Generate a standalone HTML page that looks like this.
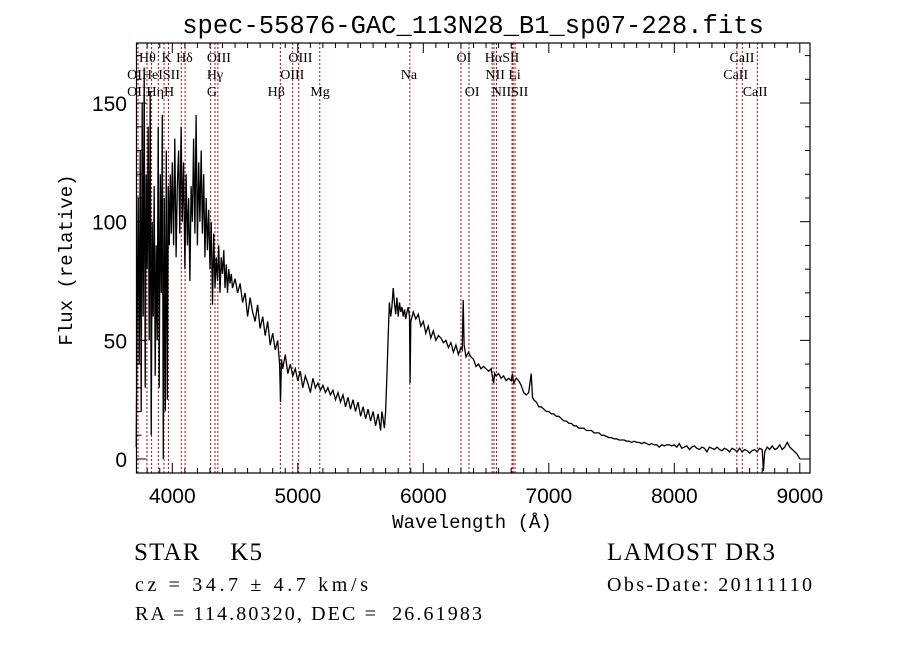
<!DOCTYPE html>
<html><head><meta charset="utf-8"><style>
html,body{margin:0;padding:0;background:#fff;}
svg{display:block;}
</style></head><body>
<svg id="chart" width="900" height="649" xmlns="http://www.w3.org/2000/svg">
<rect width="900" height="649" fill="#fff"/>
<text x="473" y="33" text-anchor="middle" font-family="Liberation Mono, monospace" font-size="25.5">spec-55876-GAC_113N28_B1_sp07-228.fits</text>
<g id="lines"></g>
<g id="labels" font-family="Liberation Serif, serif" font-size="14"></g>
<g id="axes"></g>
<path id="spec" fill="none" stroke="#000" stroke-width="1.3"/>
<text x="472" y="528" text-anchor="middle" font-family="Liberation Mono, monospace" font-size="19">Wavelength (Å)</text>
<text transform="translate(72,260) rotate(-90)" text-anchor="middle" font-family="Liberation Mono, monospace" font-size="19">Flux (relative)</text>
<g font-family="Liberation Serif, serif">
<text x="134" y="560" font-size="25" textLength="128" lengthAdjust="spacing" xml:space="preserve">STAR    K5</text>
<text x="607" y="560" font-size="25" textLength="168" lengthAdjust="spacing">LAMOST DR3</text>
<text x="135" y="591" font-size="20" textLength="233" lengthAdjust="spacing">cz = 34.7 ± 4.7 km/s</text>
<text x="607" y="591" font-size="20" textLength="205" lengthAdjust="spacing">Obs-Date: 20111110</text>
<text x="135" y="620" font-size="20" textLength="347" lengthAdjust="spacing" xml:space="preserve">RA = 114.80320, DEC =  26.61983</text>
</g>
</svg>
<script>
const waves = [3712,3720,3728,3736,3744,3752,3760,3768,3776,3784,3792,3800,3808,3816,3824,3832,3840,3848,3856,3864,3872,3880,3888,3896,3904,3912,3920,3928,3936,3944,3952,3960,3968,3976,3984,3992,
4000,4010,4020,4030,4040,4050,4060,4070,4080,4090,4100,4110,4120,4130,4140,4150,4160,4170,4180,4190,4200,4210,4220,4230,4240,4250,4260,4270,4280,4290,
4300,4310,4320,4330,4340,4350,4360,4370,4380,4390,4400,4410,4420,4430,4440,4450,4460,4470,
4480,4500,4520,4540,4560,4580,4600,4620,4640,4660,4680,4700,4720,4740,4760,4780,4800,4820,4840,4855,4862,4870,4880,4900,4920,4940,4960,4980,5000,5020,5040,5060,5080,5100,5120,5140,5160,5180,5200,5220,5240,5260,5280,5300,5320,5340,5360,5380,5400,5420,5440,5460,5480,5500,5520,5540,5560,5580,5600,5620,5640,5660,5670,
5680,5690,5700,5710,5720,5730,5740,5750,5760,5770,5780,5790,5800,5810,5820,5830,5840,5850,5860,5870,5880,5890,5895,5900,5920,5940,5960,5980,6000,6020,6040,6060,6080,6100,6120,6140,6160,6180,6200,6220,6240,6260,6280,6300,6310,6318,6325,6340,6360,6380,6400,6420,6440,6460,6480,6500,6520,6540,6560,6570,6580,6600,6620,6640,6660,6680,6700,6710,6720,6740,6760,6780,6800,6820,6840,6860,6870,6880,6900,6920,6940,6960,6980,7000,7020,7040,7060,7080,7100,7120,7140,7160,7180,7200,7220,7240,7260,7280,7300,7320,7340,7360,7380,7400,7420,7440,7460,7480,7500,7520,7540,7560,7580,7600,7620,7640,7660,7680,7700,7720,7740,7760,7780,7800,7820,7840,7860,7880,7900,7920,7940,7960,7980,8000,8020,8040,8060,8080,8100,8120,8140,8160,8180,8200,8220,8240,8260,8280,8300,8320,8340,8360,8380,8400,8420,8440,8460,8480,8500,8520,8540,8560,8580,8600,8620,8640,8660,8680,8700,8710,8720,8740,8760,8780,8800,8820,8840,8860,8880,8900,8920,8940,8960,8980,9000];
const flux = [5,60,110,40,130,20,150,60,165,30,120,80,140,50,155,10,100,60,115,35,90,50,140,30,120,70,145,0,110,20,130,25,115,90,120,95,
125,90,135,85,115,130,95,140,100,125,80,120,90,110,75,115,100,135,95,145,90,125,100,130,95,120,85,110,88,105,
80,100,65,95,72,85,75,90,70,85,78,88,72,82,70,80,74,78,
72,76,70,74,66,70,60,68,62,58,65,55,60,52,58,48,53,46,50,40,24,42,38,44,36,40,35,38,33,37,30,35,32,28,34,30,32,29,31,28,30,27,29,25,28,24,27,22,26,21,25,20,24,18,22,17,21,16,20,14,19,12,20,
17,13,20,35,52,66,60,64,72,66,61,68,60,66,62,64,60,63,59,62,64,60,32,58,62,59,61,56,58,53,56,51,54,50,52,51,49,50,47,49,45,48,44,47,46,67,48,43,45,43,42,39,40,38,39,38,37,38,32,36,35,36,34,35,33,34,33,36,32,34,33,31,28,27,28,36,26,25,24,22,22,21,20,20,19,19,18,18,17,16,16,15,15,14,14,13,13,13,12,12,12,11,11,11,10,10,9.5,9,9,8.5,8.5,8,8,8,7.5,7.5,7,7.5,7,7,6.5,7,6.5,6,6.5,6,6,5,6,5.5,6,6,5.5,6,5,6.5,4.5,5,5.5,4,5,5.5,4.5,4,5,4.5,3,5,4.5,4,5,4,3.5,4.5,4,3,4.5,4,3,4.5,3,4,3.5,2.5,3.5,4,3,4.5,4,-5,3,5,4,5.5,4,4.5,6,4,5,7,5,4,3,2,0];
const xTicks = [4000,5000,6000,7000,8000,9000];
const yTicks = [0,50,100,150];
const lineWaves = [3727,3798,3835,3889,3934,3969,4072,4102,4305,4340,4363,4861,4959,5007,5175,5893,6300,6364,6548,6563,6583,6707,6716,6731,8498,8542,8662];
const labelText = ["Hθ","K","Hδ","OIII","OIII","OI","HαSII","CaII","OIHeISII","Hγ","OIII","Na","NII Li","CaII","OIIHηH","G","Hβ","Mg","OI","NIISII","CaII"];
const labelWave = [3735,3915,4030,4275,4925,6265,6490,8440,3640,4275,4860,5820,6495,8390,3640,4275,4760,5100,6330,6545,8545];
const labelRow = [0,0,0,0,0,0,0,0,1,1,1,1,1,1,2,2,2,2,2,2,2];

const X0=136.5, X1=810, Y0=43, Y1=473;
const xs = w => 172.3 + (w-4000)*0.1255;
const ys = f => 459 - f*2.373;
const NS="http://www.w3.org/2000/svg";
function mk(tag, attrs, parent){const e=document.createElementNS(NS,tag);for(const k in attrs)e.setAttribute(k,attrs[k]);parent.appendChild(e);return e;}

const lg=document.getElementById('lines');
lineWaves.forEach(w=>{
  const l=mk('line',{x1:xs(w),x2:xs(w),y1:Y0,y2:Y1,stroke:'#c00000','stroke-width':1,'stroke-dasharray':'2,2'},lg);
  
  
});
const lb=document.getElementById('labels');
const rowY=[62,79,96];
labelText.forEach((t,i)=>{
  const e=mk('text',{x:xs(labelWave[i]),y:rowY[labelRow[i]]},lb);
  e.textContent=t;
  
  
});

const ax=document.getElementById('axes');
const fr=mk('rect',{x:X0,y:Y0,width:X1-X0,height:Y1-Y0,fill:'none',stroke:'#000','stroke-width':1.2},ax);


for(let w=3800; w<=9000; w+=100){
  const major = w%1000===0, L = major?10:5;
  mk('line',{x1:xs(w),x2:xs(w),y1:Y1,y2:Y1-L,stroke:'#000','stroke-width':1},ax);
  mk('line',{x1:xs(w),x2:xs(w),y1:Y0,y2:Y0+L,stroke:'#000','stroke-width':1},ax);
}
xTicks.forEach(w=>{
  const t=mk('text',{x:xs(w),y:503,'text-anchor':'middle','font-family':'Liberation Sans, sans-serif','font-size':21},ax);
  t.textContent=w;
  
  
});
for(let f=0; f<=170; f+=10){
  const major=f%50===0, L=major?10:5;
  mk('line',{x1:X0,x2:X0+L,y1:ys(f),y2:ys(f),stroke:'#000','stroke-width':1},ax);
  mk('line',{x1:X1,x2:X1-L,y1:ys(f),y2:ys(f),stroke:'#000','stroke-width':1},ax);
}
yTicks.forEach(f=>{
  const t=mk('text',{x:127,y:ys(f)+8,'text-anchor':'end','font-family':'Liberation Sans, sans-serif','font-size':21},ax);
  t.textContent=f;
  
  
});

let d='';
waves.forEach((w,i)=>{
  const y=Math.min(Y1,Math.max(Y0,ys(flux[i])));
  d+=(i?'L':'M')+xs(w).toFixed(1)+','+y.toFixed(1);
});
document.getElementById('spec').setAttribute('d',d);
</script>
</body></html>
